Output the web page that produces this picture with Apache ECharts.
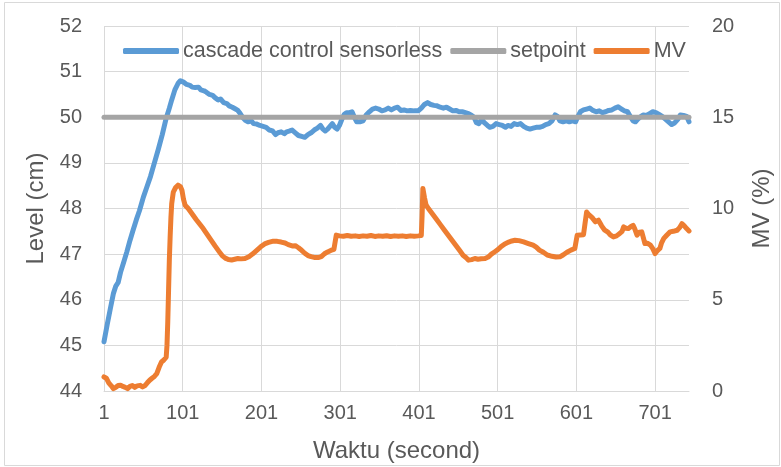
<!DOCTYPE html>
<html>
<head>
<meta charset="utf-8">
<script src="https://cdn.jsdelivr.net/npm/echarts@6/dist/echarts.min.js"></script>
<style>
  html, body { margin: 0; padding: 0; background: #fff; }
  #chart { width: 781px; height: 467px; }
</style>
</head>
<body>
<div id="chart"></div>
<script>
// Sample numbers along the time axis (1 .. 744)
const sampleCount = 744;
const xTickStep = 100;

// Water level with the sensorless cascade controller: [sample, level cm]
const levelData = [
  [1,45.08],[5,45.45],[9,45.8],[13,46.14],[16,46.3],[19,46.38],[22,46.6],[26,46.82],[30,47.05],[34,47.3],
  [38,47.53],[42,47.75],[46,47.95],[51,48.25],[55,48.45],[60,48.7],[65,49.0],[70,49.3],[75,49.62],[80,49.98],
  [84,50.2],[87,50.38],[91,50.6],[95,50.74],[98,50.8],[102,50.77],[106,50.72],[110,50.7],[113,50.66],[117,50.65],
  [121,50.66],[124,50.6],[128,50.58],[131,50.55],[135,50.5],[139,50.48],[142,50.43],[146,50.38],[149,50.4],[153,50.32],
  [157,50.3],[160,50.25],[164,50.22],[168,50.18],[171,50.15],[174,50.08],[177,50.0],[180,49.94],[184,49.9],[188,49.92],
  [191,49.86],[195,49.85],[199,49.82],[203,49.8],[207,49.78],[211,49.72],[215,49.7],[219,49.62],[222,49.66],[226,49.68],
  [230,49.64],[233,49.68],[237,49.7],[240,49.72],[244,49.66],[248,49.6],[252,49.58],[256,49.56],[260,49.62],[264,49.66],
  [268,49.72],[272,49.76],[276,49.82],[279,49.74],[282,49.7],[285,49.74],[288,49.8],[291,49.86],[294,49.78],[297,49.74],
  [300,49.82],[303,49.95],[306,50.06],[309,50.1],[313,50.1],[316,50.12],[319,50.0],[322,49.9],[326,49.9],[330,49.92],
  [334,50.05],[338,50.12],[342,50.18],[346,50.2],[350,50.18],[354,50.14],[358,50.16],[362,50.2],[366,50.16],[370,50.2],
  [374,50.22],[378,50.15],[382,50.16],[386,50.14],[390,50.15],[395,50.14],[400,50.14],[404,50.2],[408,50.28],[412,50.32],
  [416,50.28],[420,50.26],[424,50.25],[428,50.22],[432,50.2],[436,50.22],[440,50.18],[444,50.14],[448,50.15],[452,50.12],
  [456,50.12],[460,50.1],[464,50.08],[468,50.04],[471,50.0],[474,49.88],[477,49.86],[481,49.95],[484,49.88],[488,49.82],
  [491,49.78],[495,49.8],[499,49.86],[503,49.84],[507,49.82],[511,49.78],[514,49.82],[518,49.8],[522,49.86],[526,49.84],
  [530,49.86],[534,49.8],[538,49.76],[542,49.74],[546,49.76],[550,49.78],[554,49.78],[558,49.8],[562,49.84],[566,49.86],
  [570,49.92],[574,50.05],[577,50.02],[580,49.92],[584,49.9],[588,49.92],[592,49.9],[596,49.92],[600,49.9],[603,50.02],
  [606,50.12],[610,50.16],[614,50.18],[618,50.2],[622,50.15],[626,50.12],[630,50.14],[634,50.1],[638,50.12],[642,50.15],
  [646,50.16],[650,50.2],[654,50.23],[658,50.18],[662,50.14],[666,50.12],[670,50.0],[673,49.92],[676,49.9],[679,49.96],
  [683,50.02],[686,50.05],[690,50.04],[694,50.08],[698,50.12],[702,50.1],[706,50.06],[710,50.02],[714,49.96],[718,49.9],
  [722,49.84],[726,49.88],[730,49.96],[733,50.05],[737,50.04],[741,50.02],[744,49.9]
];

// Level setpoint, cm
const setpointLevel = 50;

// Manipulated variable (pump input), %: [sample, MV]
const mvData = [
  [1,0.77],[4,0.7],[7,0.45],[10,0.3],[13,0.13],[16,0.2],[19,0.3],[22,0.32],[25,0.25],[28,0.2],
  [31,0.13],[34,0.25],[37,0.3],[40,0.2],[43,0.28],[47,0.31],[50,0.22],[53,0.3],[56,0.45],[59,0.59],
  [62,0.7],[65,0.8],[68,0.95],[71,1.3],[74,1.59],[77,1.7],[80,1.86],[81,2.5],[82,3.8],[83,5.5],
  [84,7.2],[85,8.44],[86,9.5],[87,10.27],[89,10.9],[92,11.15],[95,11.28],[98,11.2],[100,11.0],[102,10.5],
  [104,10.18],[108,10.0],[113,9.7],[118,9.4],[123,9.12],[127,8.9],[132,8.58],[137,8.27],[142,7.95],[147,7.65],
  [151,7.42],[155,7.28],[159,7.2],[163,7.18],[167,7.22],[171,7.26],[175,7.24],[180,7.26],[185,7.36],[190,7.52],
  [195,7.71],[200,7.9],[205,8.06],[210,8.14],[216,8.21],[221,8.2],[226,8.16],[231,8.11],[235,8.02],[240,7.95],
  [244,7.96],[248,7.85],[252,7.71],[256,7.55],[260,7.42],[264,7.36],[268,7.32],[273,7.31],[277,7.36],[281,7.52],
  [285,7.62],[289,7.7],[293,7.76],[295,7.82],[296,8.54],[300,8.5],[305,8.48],[310,8.52],[315,8.48],[320,8.5],
  [325,8.47],[330,8.5],[335,8.48],[340,8.52],[345,8.47],[350,8.5],[355,8.48],[360,8.51],[365,8.47],[370,8.5],
  [375,8.48],[380,8.5],[385,8.47],[390,8.5],[395,8.48],[400,8.5],[404,8.52],[405,9.6],[406,11.1],[408,10.6],
  [410,10.2],[413,10.0],[418,9.71],[423,9.42],[428,9.13],[433,8.84],[438,8.55],[443,8.26],[448,7.97],[453,7.68],
  [457,7.44],[461,7.3],[464,7.17],[468,7.2],[472,7.26],[476,7.22],[480,7.25],[485,7.26],[489,7.34],[493,7.5],
  [497,7.62],[500,7.71],[505,7.9],[510,8.06],[515,8.16],[519,8.22],[523,8.26],[528,8.24],[534,8.17],[540,8.08],
  [546,7.99],[550,7.88],[554,7.72],[559,7.6],[564,7.45],[570,7.38],[575,7.34],[580,7.35],[584,7.45],[589,7.6],
  [594,7.72],[599,7.81],[601,7.85],[602,8.54],[606,8.55],[610,8.56],[612,9.2],[614,9.81],[616,9.7],[618,9.72],
  [621,9.5],[625,9.27],[629,9.36],[633,9.05],[637,8.81],[641,8.7],[644,8.55],[648,8.44],[652,8.5],[656,8.63],
  [659,8.75],[661,8.99],[664,8.92],[667,8.9],[670,9.0],[673,9.08],[675,8.9],[678,8.54],[681,8.7],[684,8.72],
  [686,8.4],[688,8.08],[691,8.1],[695,7.99],[698,7.8],[701,7.53],[704,7.7],[707,7.81],[709,8.1],[712,8.36],
  [716,8.55],[720,8.72],[724,8.75],[729,8.81],[732,8.95],[735,9.17],[738,9.05],[741,8.9],[744,8.77]
];

const seriesNames = ['cascade control sensorless', 'setpoint', 'MV'];
const seriesColors = ['#5B9BD5', '#A5A5A5', '#ED7D31'];

// Category labels 1..744; data points address them by zero-based index
const categories = [];
for (let i = 1; i <= sampleCount; i++) categories.push(String(i));
const toIndex = pts => pts.map(p => [p[0] - 1, p[1]]);

const FONT = '"Liberation Sans", Arial, sans-serif';
const TEXT = '#595959';
const GRID = '#D9D9D9';

const lineStyle = (color) => ({ color: color, width: 5, cap: 'round', join: 'round' });

const chart = echarts.init(document.getElementById('chart'), null, { renderer: 'canvas' });
chart.setOption({
  backgroundColor: '#fff',
  animation: false,
  textStyle: { fontFamily: FONT, color: TEXT },
  graphic: [{
    type: 'rect', silent: true, z: -10,
    shape: { x: 4.5, y: 2.5, width: 775, height: 463 },
    style: { fill: 'none', stroke: GRID, lineWidth: 1 }
  }],
  // fixed plot rectangle; do not shrink it to fit axis names
  grid: { left: 104, right: 92, top: 26, bottom: 76, containLabel: false, outerBoundsMode: 'none' },
  legend: {
    data: seriesNames,
    left: 118, top: 35,
    icon: 'roundRect',
    itemWidth: 56, itemHeight: 6, itemGap: 8,
    textStyle: { fontFamily: FONT, fontSize: 21.5, color: TEXT, padding: [0, 0, 0, -1] }
  },
  xAxis: {
    type: 'category',
    data: categories,
    boundaryGap: false,
    axisLine: { show: true, lineStyle: { color: GRID, width: 1 } },
    axisTick: { show: false },
    axisLabel: { interval: xTickStep - 1, color: TEXT, fontSize: 20, fontFamily: FONT, margin: 12 },
    splitLine: { show: true, interval: xTickStep - 1, lineStyle: { color: GRID, width: 1 } },
    name: 'Waktu (second)', nameLocation: 'middle', nameGap: 48,
    nameTextStyle: { fontSize: 24, color: TEXT, fontFamily: FONT }
  },
  yAxis: [{
    type: 'value', min: 44, max: 52, interval: 1,
    axisLine: { show: false }, axisTick: { show: false },
    axisLabel: { color: TEXT, fontSize: 20, fontFamily: FONT, margin: 22 },
    splitLine: { show: true, lineStyle: { color: GRID, width: 1 } },
    name: 'Level (cm)', nameLocation: 'middle', nameRotate: 90, nameGap: 56,
    nameTextStyle: { fontSize: 24, color: TEXT, fontFamily: FONT }
  }, {
    type: 'value', min: 0, max: 20, interval: 5,
    position: 'right',
    axisLine: { show: false }, axisTick: { show: false },
    axisLabel: { color: TEXT, fontSize: 20, fontFamily: FONT, margin: 23 },
    splitLine: { show: false },
    name: 'MV (%)', nameLocation: 'middle', nameRotate: 90, nameGap: 61,
    nameTextStyle: { fontSize: 24, color: TEXT, fontFamily: FONT }
  }],
  series: [{
    name: seriesNames[0], type: 'line', yAxisIndex: 0,
    data: toIndex(levelData), showSymbol: false, smooth: false,
    color: seriesColors[0], lineStyle: lineStyle(seriesColors[0]), z: 2
  }, {
    name: seriesNames[1], type: 'line', yAxisIndex: 0,
    data: [[0, setpointLevel], [sampleCount - 1, setpointLevel]], showSymbol: false,
    color: seriesColors[1], lineStyle: lineStyle(seriesColors[1]), z: 3
  }, {
    name: seriesNames[2], type: 'line', yAxisIndex: 1,
    data: toIndex(mvData), showSymbol: false, smooth: false,
    color: seriesColors[2], lineStyle: lineStyle(seriesColors[2]), z: 4
  }]
});
</script>
</body>
</html>
